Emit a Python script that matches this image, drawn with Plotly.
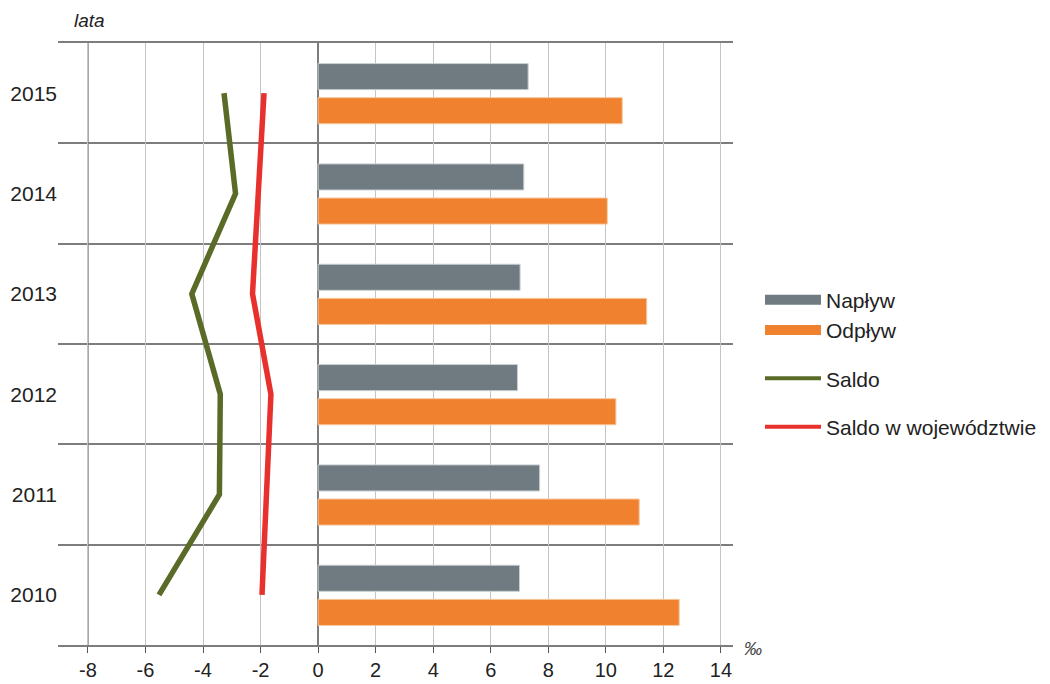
import plotly.graph_objects as go

years = ["2010", "2011", "2012", "2013", "2014", "2015"]
naplyw = [7.00, 7.70, 6.93, 7.02, 7.15, 7.30]
odplyw = [12.55, 11.16, 10.35, 11.42, 10.05, 10.57]
saldo = [-5.53, -3.43, -3.40, -4.39, -2.87, -3.27]
saldo_woj = [-1.95, -1.81, -1.64, -2.28, -2.09, -1.88]
x_ticks = [-8, -6, -4, -2, 0, 2, 4, 6, 8, 10, 12, 14]

GREY = "#6f7b80"
ORANGE = "#ef812f"
GREEN = "#5a6b28"
RED = "#e8312c"
FONT = "Liberation Sans, Arial, sans-serif"

pos = list(range(len(years)))

fig = go.Figure()
fig.add_trace(go.Bar(y=pos, x=naplyw, orientation="h", name="Napływ",
                     marker=dict(color=GREY, line=dict(color="#c9d0d3", width=1)),
                     width=0.26, offset=0.035, showlegend=False, hoverinfo="x"))
fig.add_trace(go.Bar(y=pos, x=odplyw, orientation="h", name="Odpływ",
                     marker=dict(color=ORANGE, line=dict(color="#f7c79d", width=1)),
                     width=0.26, offset=-0.305, showlegend=False, hoverinfo="x"))
fig.add_trace(go.Scatter(y=pos, x=saldo, mode="lines", name="Saldo",
                         line=dict(color=GREEN, width=5.5), showlegend=False))
fig.add_trace(go.Scatter(y=pos, x=saldo_woj, mode="lines", name="Saldo w województwie",
                         line=dict(color=RED, width=5.5), showlegend=False))

# legend proxies
fig.add_trace(go.Scatter(x=[None], y=[None], mode="lines", name="Napływ",
                         line=dict(color=GREY, width=14), legendgroup="a"))
fig.add_trace(go.Scatter(x=[None], y=[None], mode="lines", name="Odpływ",
                         line=dict(color=ORANGE, width=14), legendgroup="a"))
fig.add_trace(go.Scatter(x=[None], y=[None], mode="lines", name="Saldo",
                         line=dict(color=GREEN, width=4), legendgroup="b"))
fig.add_trace(go.Scatter(x=[None], y=[None], mode="lines", name="Saldo w województwie",
                         line=dict(color=RED, width=4), legendgroup="c"))

fig.add_shape(type="line", xref="x", yref="paper", x0=-8, x1=-8, y0=0, y1=1,
              line=dict(color="#7d7d7d", width=1.5), layer="below")

fig.update_layout(
    width=1050, height=684,
    margin=dict(l=58, r=317, t=43, b=39, autoexpand=False),
    paper_bgcolor="white", plot_bgcolor="white",
    barmode="overlay",
    font=dict(family=FONT, color="#222222"),
    showlegend=True,
    legend=dict(x=1.04, y=0.607, xanchor="left", yanchor="top",
                font=dict(size=21, family=FONT, color="#222222"),
                itemwidth=56, tracegroupgap=18, traceorder="grouped",
                bgcolor="rgba(0,0,0,0)"),
    xaxis=dict(range=[-9.04, 14.42], tickvals=x_ticks,
               ticktext=[str(v) for v in x_ticks],
               showgrid=True, gridcolor="#c4c4c4", gridwidth=1.4,
               zeroline=True, zerolinecolor="#7d7d7d", zerolinewidth=1.5,
               showline=True, linecolor="#7d7d7d", linewidth=1.5, mirror=True,
               ticks="outside", ticklen=6, tickcolor="#555555", tickwidth=1.3,
               tickfont=dict(size=20, family=FONT, color="#222222"),
               automargin=False, fixedrange=True),
    yaxis=dict(range=[-0.5, 5.5], tickvals=pos, ticktext=years,
               showgrid=False, zeroline=False, showline=False, ticks="",
               tickfont=dict(size=21, family=FONT, color="#222222"),
               minor=dict(tick0=0.5, dtick=1, showgrid=True,
                          gridcolor="#7d7d7d", gridwidth=1.5, ticks=""),
               automargin=False, fixedrange=True),
)

fig.add_annotation(text="<i>lata</i>", xref="paper", yref="paper",
                   x=0.021, y=1.0, yshift=23, xanchor="left", yanchor="middle",
                   showarrow=False, font=dict(size=19, family=FONT, color="#222222"))
fig.add_annotation(text="<i>‰</i>", xref="paper", yref="paper",
                   x=1.0, y=0.0, xshift=9, yshift=-4, xanchor="left", yanchor="middle",
                   showarrow=False, font=dict(size=18, family=FONT, color="#444444"))

fig.write_html("out.html", config={"displayModeBar": False},
               post_script="document.body.style.margin='0';document.body.style.overflow='hidden';")
